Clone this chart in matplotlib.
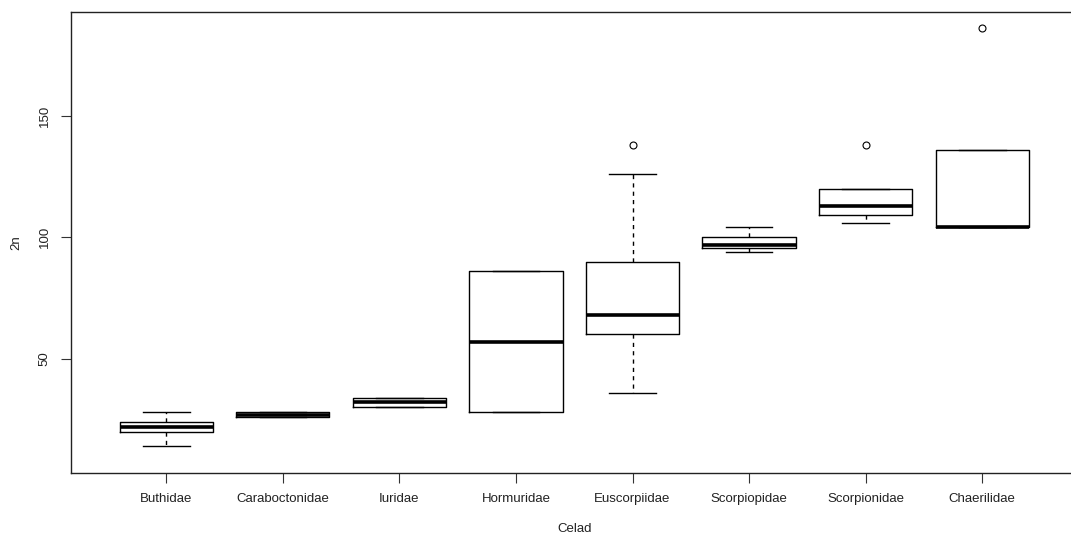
import matplotlib
matplotlib.use("Agg")
import matplotlib.pyplot as plt

families = ["Buthidae", "Caraboctonidae", "Iuridae", "Hormuridae",
            "Euscorpiidae", "Scorpiopidae", "Scorpionidae", "Chaerilidae"]
whislo = [14, 26, 30, 28, 36, 94, 106, 104]
q1 = [20, 26, 30, 28, 60, 95.5, 109, 104]
med = [22, 27, 32, 57, 68, 97, 113, 104]
q3 = [24, 28, 34, 86, 90, 100, 120, 136]
whishi = [28, 28, 34, 86, 126, 104, 120, 136]
fliers = [[], [], [], [], [138], [], [138], [186]]
yticks = [50, 100, 150]

plt.rcParams['font.family'] = ['Liberation Sans', 'DejaVu Sans']

fig = plt.figure(figsize=(10.71, 5.36), dpi=100)
ax = fig.add_axes([70.7/1071, 63.3/536, 1007.1/1071, 461/536])

stats = []
for i, name in enumerate(families):
    stats.append(dict(label=name, whislo=whislo[i], q1=q1[i], med=med[i],
                      q3=q3[i], whishi=whishi[i], fliers=fliers[i]))

ax.bxp(stats, positions=range(1, len(families) + 1), widths=0.8,
       showfliers=True,
       boxprops=dict(color='black', linewidth=1.0),
       medianprops=dict(color='black', linewidth=2.6, solid_capstyle='butt'),
       whiskerprops=dict(color='black', linewidth=1.0, linestyle=(0, (3, 3))),
       capprops=dict(color='black', linewidth=1.0),
       capwidths=0.4,
       flierprops=dict(marker='o', markerfacecolor='none', markeredgecolor='black',
                       markersize=5, markeredgewidth=0.8))

ax.set_xlim(0.18, 8.82)
ax.set_ylim(3.1, 192.8)
ax.set_xticks(range(1, len(families) + 1))
ax.set_xticklabels(families, fontsize=9.5, color='#222222')
ax.set_yticks(yticks)
ax.set_yticklabels([str(v) for v in yticks], fontsize=9.5, color='#222222',
                   rotation=90, va='center')
ax.tick_params(axis='both', direction='out', length=7.5, width=0.8, color='#333333')
ax.tick_params(axis='x', pad=7)
ax.tick_params(axis='y', pad=7)
for s in ax.spines.values():
    s.set_linewidth(1.0)
    s.set_color('#222222')

ax.set_xlabel("Celad", fontsize=9.5, color='#222222', labelpad=13)
ax.set_ylabel("2n", fontsize=9.5, color='#222222', labelpad=12)

fig.savefig("out.png", dpi=100)
